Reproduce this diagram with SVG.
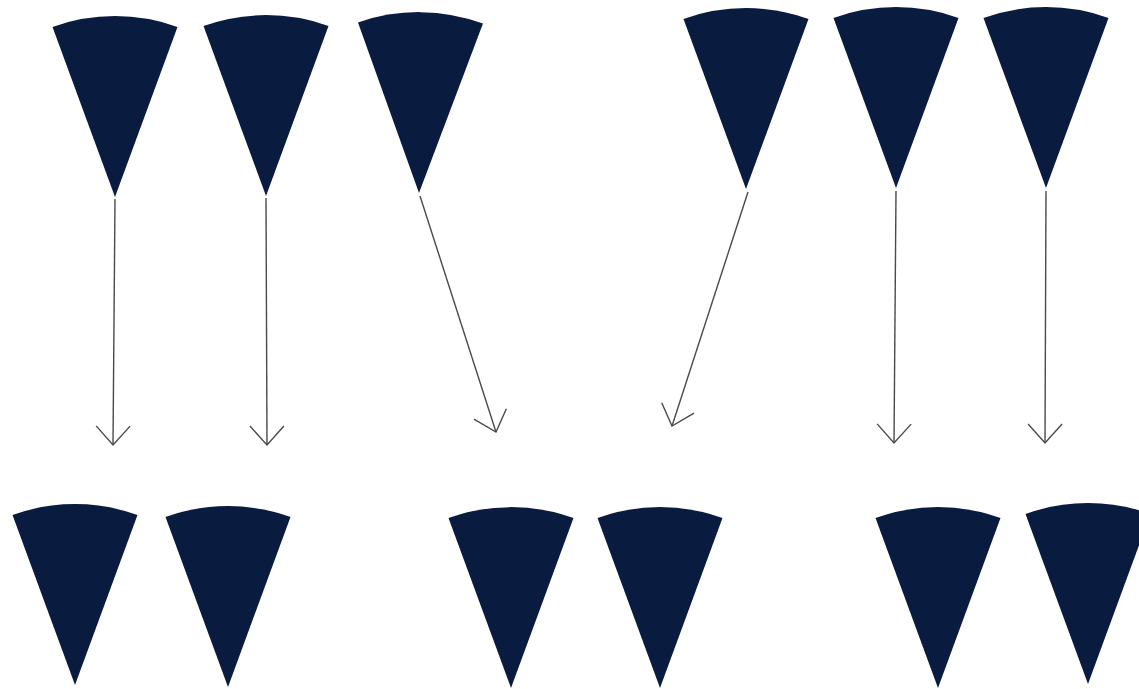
<svg xmlns="http://www.w3.org/2000/svg" xmlns:xlink="http://www.w3.org/1999/xlink" width="1139" height="689" viewBox="0 0 1139 689">
<style>
.wedge{fill:#0a1b40}
.conn{fill:none;stroke:#4a4a4a;stroke-width:1.4}
</style>
<defs>
<path id="w" d="M0 0 L-62.5 -170 A185 185 0 0 1 62.5 -170 Z"/>
<marker id="arr" markerUnits="userSpaceOnUse" markerWidth="50" markerHeight="50" viewBox="-25 -25 50 50" refX="0" refY="0" orient="auto">
<path d="M-19 -17 L0 0 L-19 17" fill="none" stroke="#4a4a4a" stroke-width="1.4"/>
</marker>
</defs>
<rect width="1139" height="689" fill="#fff"/>
<g id="t1"><use href="#w" class="wedge" transform="translate(115,197)"/></g>
<g id="t2"><use href="#w" class="wedge" transform="translate(266,196)"/></g>
<g id="t3"><use href="#w" class="wedge" transform="translate(419,193) rotate(0.5)"/></g>
<g id="t4"><use href="#w" class="wedge" transform="translate(746,189)"/></g>
<g id="t5"><use href="#w" class="wedge" transform="translate(896,188)"/></g>
<g id="t6"><use href="#w" class="wedge" transform="translate(1046,188)"/></g>
<g id="b1"><use href="#w" class="wedge" transform="translate(75,685)"/></g>
<g id="b2"><use href="#w" class="wedge" transform="translate(228,687)"/></g>
<g id="b3"><use href="#w" class="wedge" transform="translate(511,688)"/></g>
<g id="b4"><use href="#w" class="wedge" transform="translate(660,688)"/></g>
<g id="b5"><use href="#w" class="wedge" transform="translate(938,688)"/></g>
<g id="b6"><use href="#w" class="wedge" transform="translate(1088,684)"/></g>
<g id="connectors">
<line class="conn" x1="115" y1="199" x2="113" y2="445" marker-end="url(#arr)"/>
<line class="conn" x1="266" y1="198" x2="267" y2="445" marker-end="url(#arr)"/>
<line class="conn" x1="420" y1="196" x2="496" y2="432" marker-end="url(#arr)"/>
<line class="conn" x1="748" y1="192" x2="672" y2="426" marker-end="url(#arr)"/>
<line class="conn" x1="896" y1="191" x2="894" y2="443" marker-end="url(#arr)"/>
<line class="conn" x1="1046" y1="191" x2="1045" y2="443" marker-end="url(#arr)"/>
</g>
</svg>
